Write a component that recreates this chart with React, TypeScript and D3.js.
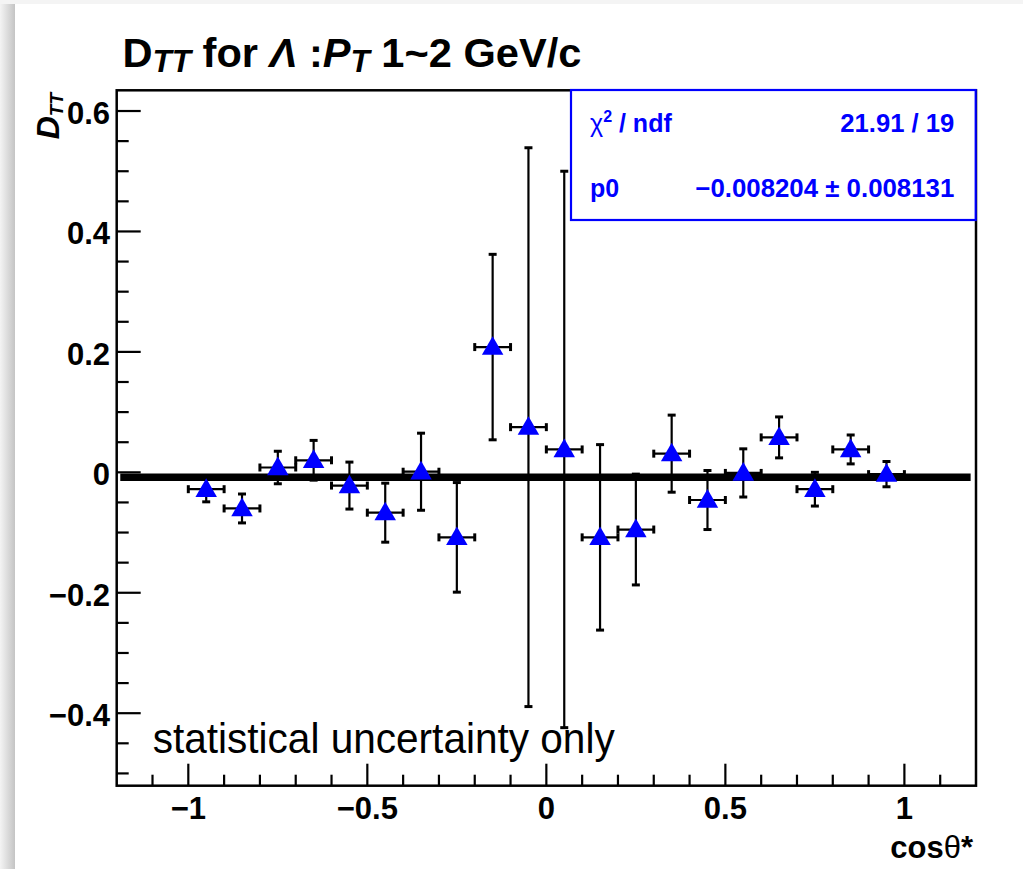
import React from "react";
import * as d3 from "d3";

// ---- data ----
const binCenters = [-0.95, -0.85, -0.75, -0.65, -0.55, -0.45, -0.35, -0.25, -0.15, -0.05, 0.05, 0.15, 0.25, 0.35, 0.45, 0.55, 0.65, 0.75, 0.85, 0.95];
const dttValues = [-0.028, -0.060, 0.008, 0.020, -0.022, -0.067, 0.001, -0.108, 0.208, 0.075, 0.038, -0.108, -0.095, 0.031, -0.046, -0.001, 0.058, -0.028, 0.038, -0.003];
const dttErrors = [0.021, 0.024, 0.027, 0.033, 0.039, 0.049, 0.064, 0.091, 0.154, 0.464, 0.462, 0.154, 0.092, 0.064, 0.049, 0.040, 0.034, 0.028, 0.024, 0.021];
const binHalfWidth = 0.05;
const fitP0 = -0.008204;
const fitRange = [-1.19, 1.185];
const xDomain = [-1.2, 1.2];
const yDomain = [-0.5204, 0.6344];
const xTickValues = [-1, -0.5, 0, 0.5, 1];
const xTickLabels = ["\u22121", "\u22120.5", "0", "0.5", "1"];
const yTickValues = [-0.4, -0.2, 0, 0.2, 0.4, 0.6];
const yTickLabels = ["\u22120.4", "\u22120.2", "0", "0.2", "0.4", "0.6"];
const statRows = [
  { name: "chi2", value: "21.91 / 19" },
  { name: "p0", value: "\u22120.008204 \u00b1 0.008131" },
];

const FONT = "'Liberation Sans', Arial, Helvetica, sans-serif";
const BLUE = "#0000ff";

export default function App() {
  const L = 116.7, R = 976, T = 90.3, B = 785.7;
  const x = d3.scaleLinear().domain(xDomain).range([L, R]);
  const y = d3.scaleLinear().domain(yDomain).range([B, T]);

  const xMinor = d3.range(-11, 12).map((i) => i / 10).filter((v) => !xTickValues.some((t) => Math.abs(t - v) < 1e-9));
  const yMinor = d3.range(-10, 13).map((i) => i * 0.05).filter((v) => v >= yDomain[0] && v <= yDomain[1] && !yTickValues.some((t) => Math.abs(t - v) < 1e-9));

  const tri = d3.symbol().type(d3.symbolTriangle).size(200);
  const capW = 4;

  return (
    <svg width={1023} height={869} style={{ position: "absolute", left: 0, top: 0 }} fontFamily={FONT}>
      <defs>
        <linearGradient id="shadow" x1="0" x2="1" y1="0" y2="0">
          <stop offset="0" stopColor="#f4f4f4" />
          <stop offset="1" stopColor="#c4c4c4" />
        </linearGradient>
      </defs>
      <rect x={0} y={0} width={1023} height={869} fill="#f4f4f4" />
      <rect x={0} y={4} width={15} height={865} fill="url(#shadow)" />
      <rect x={15} y={4} width={1008} height={865} fill="#ffffff" />

      {/* title */}
      <text x={122.5} y={66.7} fontSize={41} fontWeight="bold" textLength={459} lengthAdjust="spacingAndGlyphs">
        D<tspan fontStyle="italic" fontSize={31} dy={5}>TT</tspan>
        <tspan dy={-5}> for </tspan>
        <tspan fontStyle="italic">Λ</tspan>
        <tspan> :</tspan>
        <tspan fontStyle="italic">P</tspan>
        <tspan fontStyle="italic" fontSize={31} dy={5}>T</tspan>
        <tspan dy={-5}> 1~2 GeV/c</tspan>
      </text>

      {/* fit line */}
      <line x1={x(fitRange[0])} x2={x(fitRange[1])} y1={y(fitP0)} y2={y(fitP0)} stroke="#000" strokeWidth={7.5} />

      {/* error bars */}
      {binCenters.map((c, i) => {
        const cx = x(c), cy = y(dttValues[i]);
        const x0 = x(c - binHalfWidth), x1 = x(c + binHalfWidth);
        const y0 = y(dttValues[i] - dttErrors[i]), y1 = y(dttValues[i] + dttErrors[i]);
        return (
          <g key={"e" + i} stroke="#000">
            <line x1={x0} x2={x1} y1={cy} y2={cy} strokeWidth={2.2} />
            <line x1={x0} x2={x0} y1={cy - capW} y2={cy + capW} strokeWidth={3} />
            <line x1={x1} x2={x1} y1={cy - capW} y2={cy + capW} strokeWidth={3} />
            <line x1={cx} x2={cx} y1={y0} y2={y1} strokeWidth={2.2} />
            <line x1={cx - capW} x2={cx + capW} y1={y0} y2={y0} strokeWidth={3} />
            <line x1={cx - capW} x2={cx + capW} y1={y1} y2={y1} strokeWidth={3} />
          </g>
        );
      })}
      {/* markers */}
      {binCenters.map((c, i) => (
        <path key={"m" + i} d={tri() as string} transform={`translate(${x(c)},${y(dttValues[i]) + 1.5})`} fill={BLUE} />
      ))}

      {/* frame */}
      <rect x={L} y={T} width={R - L} height={B - T} fill="none" stroke="#000" strokeWidth={2.5} />

      {/* y axis ticks */}
      {yTickValues.map((v) => (
        <line key={"yt" + v} x1={L} x2={L + 24} y1={y(v)} y2={y(v)} stroke="#000" strokeWidth={2.2} />
      ))}
      {yMinor.map((v) => (
        <line key={"ym" + v} x1={L} x2={L + 12} y1={y(v)} y2={y(v)} stroke="#000" strokeWidth={2.2} />
      ))}
      {yTickValues.map((v, i) => (
        <text key={"yl" + v} x={110} y={y(v) + 13} textAnchor="end" fontSize={31} fontWeight="bold">{yTickLabels[i]}</text>
      ))}

      {/* x axis ticks */}
      {xTickValues.map((v) => (
        <line key={"xt" + v} x1={x(v)} x2={x(v)} y1={B} y2={B - 22} stroke="#000" strokeWidth={2.2} />
      ))}
      {xMinor.map((v) => (
        <line key={"xm" + v} x1={x(v)} x2={x(v)} y1={B} y2={B - 11} stroke="#000" strokeWidth={2.2} />
      ))}
      {xTickValues.map((v, i) => (
        <text key={"xl" + v} x={x(v)} y={818.5} textAnchor="middle" fontSize={31} fontWeight="bold">{xTickLabels[i]}</text>
      ))}

      {/* axis titles */}
      <text x={973} y={858.3} textAnchor="end" fontSize={31} fontWeight="bold">
        cos<tspan fontWeight="normal">θ</tspan>*
      </text>
      <text transform="translate(59,93) rotate(-90)" textAnchor="end" fontSize={32} fontWeight="bold" fontStyle="italic">
        D<tspan fontSize={19} dy={4}>TT</tspan>
      </text>

      {/* annotation */}
      <text x={152.7} y={753.3} fontSize={42} textLength={462} lengthAdjust="spacingAndGlyphs">statistical uncertainty only</text>

      {/* stat box */}
      <rect x={571} y={90} width={404.7} height={130} fill="#fff" stroke={BLUE} strokeWidth={2.2} />
      <text x={590} y={131.7} fontSize={25} fontWeight="bold" fill={BLUE}>
        <tspan fontWeight="normal">χ</tspan><tspan fontSize={16} dy={-10}>2</tspan><tspan dy={10}> / ndf</tspan>
      </text>
      <text x={954.3} y={131.7} fontSize={25} fontWeight="bold" fill={BLUE} textAnchor="end" textLength={114} lengthAdjust="spacingAndGlyphs">{statRows[0].value}</text>
      <text x={590} y={196.7} fontSize={25} fontWeight="bold" fill={BLUE}>p0</text>
      <text x={954.3} y={196.7} fontSize={25} fontWeight="bold" fill={BLUE} textAnchor="end" textLength={259} lengthAdjust="spacingAndGlyphs">{statRows[1].value}</text>
    </svg>
  );
}
